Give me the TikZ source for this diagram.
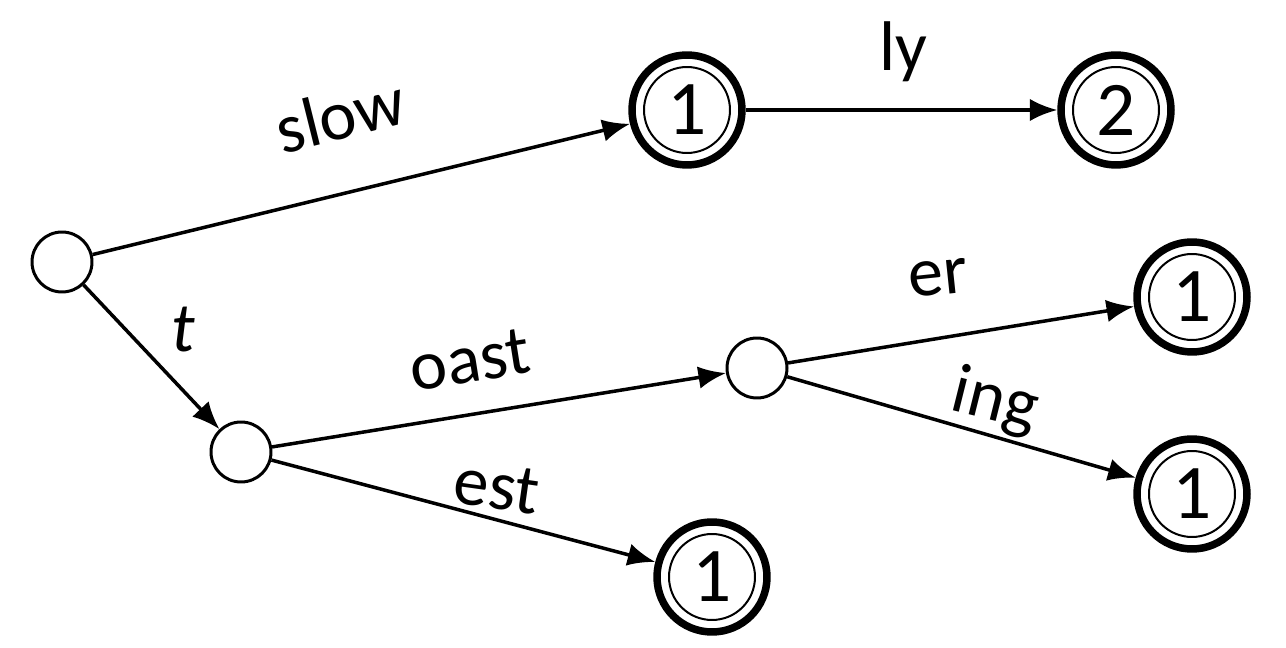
\documentclass[tikz,border=0pt]{standalone}
\usepackage{fontspec}
\setmainfont{Carlito}
\usetikzlibrary{arrows.meta}
\begin{document}
\begin{tikzpicture}[x=0.02cm,y=-0.02cm,
  st/.style={circle,draw,line width=0.06cm,minimum size=1.2cm,inner sep=0pt},
  fin/.style={circle,draw,line width=0.15cm,minimum size=2.2cm,inner sep=0pt,font=\fontsize{44}{44}\selectfont},
  ed/.style={line width=0.07cm,-{Latex[length=0.55cm,width=0.45cm]}},
  lb/.style={font=\fontsize{40}{40}\selectfont}]
\useasboundingbox (0,0) rectangle (1286,648);
\node[st] (r) at (62,262) {};
\node[st] (t) at (241,452) {};
\node[st] (c) at (757,368) {};
\node[fin] (a) at (687,110) {1};
\node[fin] (b) at (1116,110) {2};
\node[fin] (d) at (1192,297) {1};
\node[fin] (e) at (1192,494) {1};
\node[fin] (f) at (712,577) {1};
\foreach \n in {a,b,d,e,f} \draw[line width=0.04cm] (\n.center) circle (0.86cm);
\draw[ed] (r) -- (a);
\draw[ed] (a) -- (b);
\draw[ed] (r) -- (t);
\draw[ed] (t) -- (c);
\draw[ed] (t) -- (f);
\draw[ed] (c) -- (d);
\draw[ed] (c) -- (e);
\node[lb,rotate=14] (l1) at (340,115) {slow};
\node[lb] (l2) at (903,52) {ly};
\node[lb,font=\fontsize{40}{40}\selectfont\itshape] (l3) at (183,330) {t};
\node[lb,rotate=9] (l4) at (470,360) {oast};
\node[lb,rotate=-8] (l5) at (497,487) {est};
\node[lb,rotate=6] (l6) at (938,278) {er};
\node[lb,rotate=-14] (l7) at (995,402) {ing};
\end{tikzpicture}
\end{document}
